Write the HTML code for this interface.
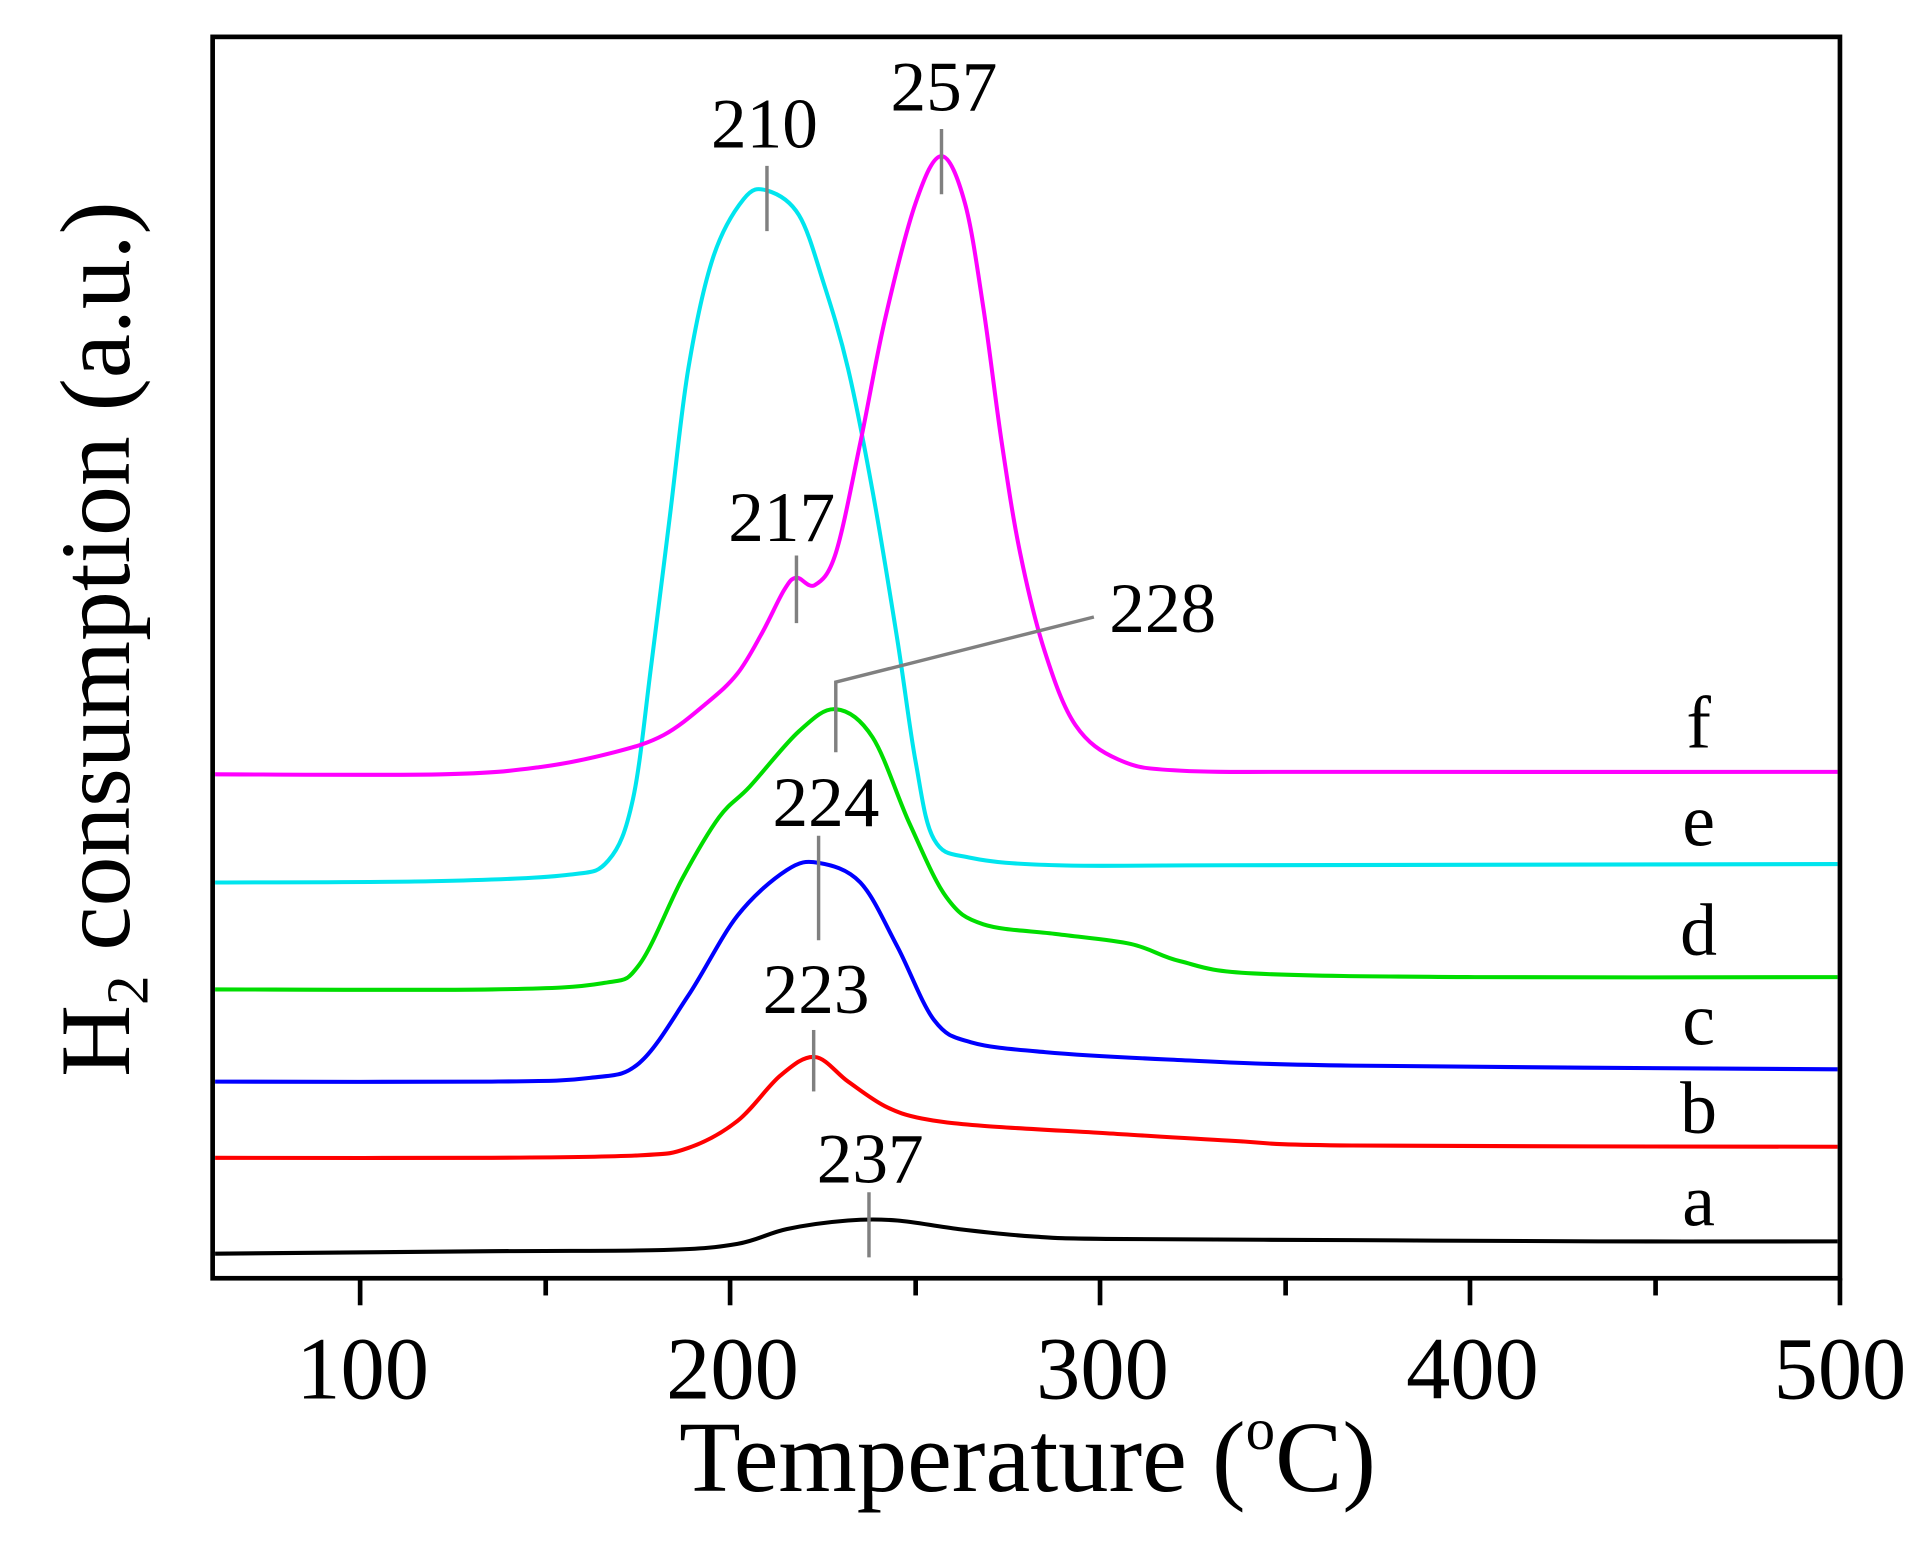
<!DOCTYPE html>
<html><head><meta charset="utf-8"><style>
html,body{margin:0;padding:0;background:#fff;}
svg{display:block;}
text{font-family:"Liberation Serif",serif;fill:#000;}
</style></head><body>
<svg id="s" width="1926" height="1550" viewBox="0 0 1567 1261.1" xmlns="http://www.w3.org/2000/svg">
<rect x="0" y="0" width="1567" height="1262" fill="#fff"/>
<g id="curves" fill="none" stroke-width="3.3" stroke-linejoin="round"></g>
<g stroke="#808080" stroke-width="2.8" fill="none">
<line x1="624" y1="135" x2="624" y2="188"/>
<line x1="766" y1="105" x2="766" y2="158"/>
<line x1="648" y1="452" x2="648" y2="507"/>
<polyline points="680,612 680,555 890,502"/>
<line x1="666" y1="680" x2="666" y2="765"/>
<line x1="662" y1="838" x2="662" y2="888"/>
<line x1="707" y1="970" x2="707" y2="1023"/>
</g>
<rect x="173" y="30" width="1324" height="1010" fill="none" stroke="#000" stroke-width="3.8"/>
<g stroke="#000" stroke-width="3.8">
<line x1="293" y1="1040" x2="293" y2="1062"/>
<line x1="444" y1="1040" x2="444" y2="1054"/>
<line x1="594" y1="1040" x2="594" y2="1062"/>
<line x1="745" y1="1040" x2="745" y2="1054"/>
<line x1="895" y1="1040" x2="895" y2="1062"/>
<line x1="1046" y1="1040" x2="1046" y2="1054"/>
<line x1="1196" y1="1040" x2="1196" y2="1062"/>
<line x1="1347" y1="1040" x2="1347" y2="1054"/>
<line x1="1497" y1="1040" x2="1497" y2="1062"/>
</g>
<g font-size="72" text-anchor="middle">
<text x="295" y="1138">100</text>
<text x="596" y="1138">200</text>
<text x="897" y="1138">300</text>
<text x="1198" y="1138">400</text>
<text x="1497" y="1138">500</text>
</g>
<text x="836" y="1213" font-size="82" text-anchor="middle">Temperature (<tspan font-size="48" dy="-34">o</tspan><tspan dy="34">C)</tspan></text>
<text transform="translate(105,520) rotate(-90)" font-size="81" text-anchor="middle">H<tspan font-size="48" dy="15">2</tspan><tspan dy="-15"> consumption (a.u.)</tspan></text>
<g font-size="58" text-anchor="middle">
<text x="622" y="120">210</text>
<text x="768" y="90">257</text>
<text x="636" y="440">217</text>
<text x="946" y="514">228</text>
<text x="672" y="672">224</text>
<text x="664" y="824">223</text>
<text x="708" y="962">237</text>
</g>
<g font-size="60" text-anchor="middle">
<text x="1382" y="608">f</text>
<text x="1382" y="688">e</text>
<text x="1382" y="777">d</text>
<text x="1382" y="850">c</text>
<text x="1382" y="922">b</text>
<text x="1382" y="997">a</text>
</g>
</svg>
<script>
var data=[
["#000",[[175,1020],[400,1018],[540,1017],[600,1012],[640,1000],[690,993],[730,993],[780,1000],[840,1006],[900,1008],[1100,1009],[1300,1010],[1495,1010]]],
["#ff0000",[[175,942],[400,942],[520,940],[560,934],[600,912],[635,875],[663,860],[690,880],[720,900],[750,910],[800,916],[900,922],[1000,928],[1100,932],[1495,933]]],
["#0000ff",[[175,880],[400,880],[480,877],[520,865],[560,810],[600,745],[640,708],[666,702],[700,718],[730,770],[760,830],[790,848],[850,856],[950,862],[1100,867],[1495,870]]],
["#00dd00",[[175,805],[400,805],[490,800],[520,785],[555,715],[585,665],[610,640],[650,595],[680,577],[710,600],[740,670],[770,730],[800,752],[860,760],[920,768],[960,782],[1020,792],[1200,795],[1495,795]]],
["#00e5ee",[[175,718],[350,717],[460,712],[495,700],[515,650],[530,540],[545,420],[560,300],[580,210],[605,162],[624,155],[650,175],[670,230],[690,300],[710,400],[730,520],[745,620],[760,683],[790,698],[860,704],[1000,704],[1495,703]]],
["#ff00ff",[[175,630],[360,630],[440,624],[500,612],[540,598],[575,572],[600,548],[620,515],[638,480],[648,470],[663,476],[680,450],[700,360],[720,260],[745,165],[766,127],[785,165],[800,250],[815,360],[830,450],[850,530],[875,590],[910,618],[960,627],[1100,628],[1495,628]]]
];
var g=document.getElementById("curves");
data.forEach(function(c){
 var p=c[1],d="M"+p[0][0]+","+p[0][1];
 for(var i=0;i<p.length-1;i++){
  var p0=p[i-1]||p[i],p1=p[i],p2=p[i+1],p3=p[i+2]||p2;
  var t=6;
  d+=" C"+(p1[0]+(p2[0]-p0[0])/t)+","+(p1[1]+(p2[1]-p0[1])/t)+" "+(p2[0]-(p3[0]-p1[0])/t)+","+(p2[1]-(p3[1]-p1[1])/t)+" "+p2[0]+","+p2[1];
 }
 var e=document.createElementNS("http://www.w3.org/2000/svg","path");
 e.setAttribute("d",d);e.setAttribute("stroke",c[0]);g.appendChild(e);
});
</script>
</body></html>
